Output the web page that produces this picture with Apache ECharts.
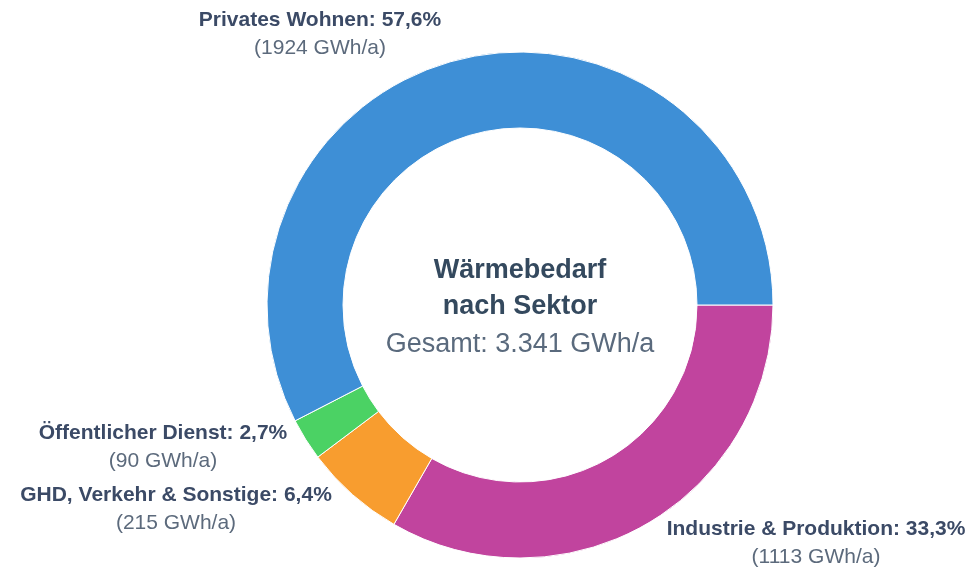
<!DOCTYPE html>
<html><head><meta charset="utf-8">
<script src="https://cdn.jsdelivr.net/npm/echarts@6/dist/echarts.min.js"></script>
<style>html,body{margin:0;padding:0;background:#fff}#c{width:979px;height:567px}</style>
</head><body><div id="c"></div>
<script>
var categories = ['Industrie & Produktion', 'GHD, Verkehr & Sonstige', 'Öffentlicher Dienst', 'Privates Wohnen'];
var values = [1113, 215, 90, 1924];
var percents = ['33,3', '6,4', '2,7', '57,6'];
var colors = ['#c1449e', '#f89d2f', '#4bd264', '#3e8fd6'];
var centerTitle = ['Wärmebedarf', 'nach Sektor'];
var centerTotal = 'Gesamt: 3.341 GWh/a';

var labelPos = [
  {x: 816, y: 543},
  {x: 176, y: 509},
  {x: 163, y: 447},
  {x: 320, y: 34}
];

var FONT = 'Liberation Sans, Arial, sans-serif';
var chart = echarts.init(document.getElementById('c'), null, {renderer: 'canvas'});
chart.setOption({
  animation: false,
  backgroundColor: '#fff',
  graphic: [
    {type: 'text', x: 520, y: 271, style: {text: centerTitle[0], font: 'bold 27px ' + FONT, fill: '#34495e', align: 'center', verticalAlign: 'middle'}},
    {type: 'text', x: 520, y: 307, style: {text: centerTitle[1], font: 'bold 27px ' + FONT, fill: '#34495e', align: 'center', verticalAlign: 'middle'}},
    {type: 'text', x: 520, y: 345, style: {text: centerTotal, font: '27px ' + FONT, fill: '#5a6a7d', align: 'center', verticalAlign: 'middle'}}
  ],
  series: [{
    type: 'pie',
    center: [520, 305],
    radius: [177, 253],
    startAngle: 0,
    clockwise: true,
    avoidLabelOverlap: false,
    itemStyle: {borderColor: '#ffffff', borderWidth: 1},
    labelLine: {show: false},
    label: {
      show: true,
      position: 'outside',
      formatter: function (p) {
        return '{b|' + p.name + ': ' + percents[p.dataIndex] + '%}\n{v|(' + p.value + ' GWh/a)}';
      },
      rich: {
        b: {fontFamily: FONT, fontWeight: 'bold', fontSize: 21, color: '#3b4a66', lineHeight: 28, align: 'center'},
        v: {fontFamily: FONT, fontSize: 21, color: '#5c6a7c', lineHeight: 28, align: 'center'}
      }
    },
    labelLayout: function (params) {
      var p = labelPos[params.dataIndex];
      return {x: p.x, y: p.y, align: 'center', verticalAlign: 'middle'};
    },
    data: categories.map(function (c, i) {
      return {name: c, value: values[i], itemStyle: {color: colors[i]}};
    })
  }]
});
</script></body></html>
